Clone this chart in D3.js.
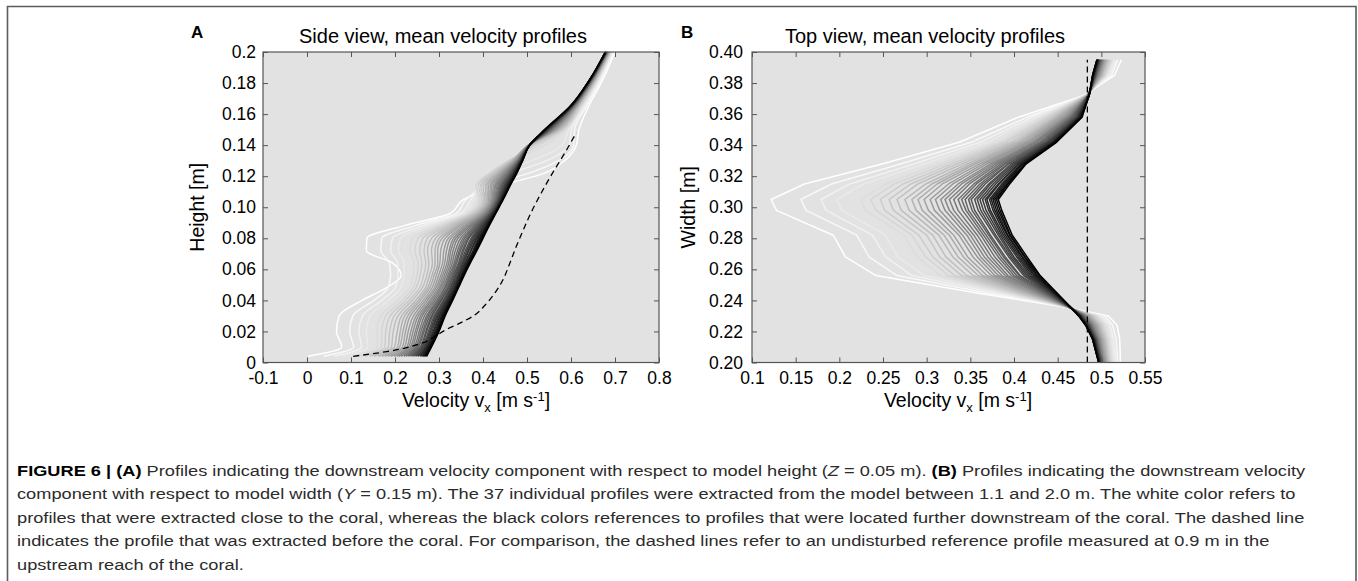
<!DOCTYPE html>
<html><head><meta charset="utf-8">
<script src="https://cdn.jsdelivr.net/npm/d3@7"></script>
<style>
body{margin:0;background:#fff}
svg{display:block}
.ax text{font-family:"Liberation Sans",Arial,Helvetica,sans-serif;fill:#000}
</style>
</head><body>
<svg id="fig" width="1358" height="581"></svg>
<script>
// ---------------- data ----------------
const xTicksA = [-0.1,0,0.1,0.2,0.3,0.4,0.5,0.6,0.7,0.8];
const xTickLabelsA = ["-0.1","0","0.1","0.2","0.3","0.4","0.5","0.6","0.7","0.8"];
const yTicksA = [0,0.02,0.04,0.06,0.08,0.10,0.12,0.14,0.16,0.18,0.2];
const yTickLabelsA = ["0","0.02","0.04","0.06","0.08","0.10","0.12","0.14","0.16","0.18","0.2"];
const xTicksB = [0.1,0.15,0.2,0.25,0.3,0.35,0.4,0.45,0.5,0.55];
const xTickLabelsB = ["0.1","0.15","0.2","0.25","0.3","0.35","0.4","0.45","0.5","0.55"];
const yTicksB = [0.20,0.22,0.24,0.26,0.28,0.30,0.32,0.34,0.36,0.38,0.40];
const yTickLabelsB = ["0.20","0.22","0.24","0.26","0.28","0.30","0.32","0.34","0.36","0.38","0.40"];

// Panel A: heights [m] shared by all 37 profiles, velocities [m/s] per profile (white -> black)
const heightsA = [0.004,0.010,0.020,0.030,0.040,0.048,0.056,0.064,0.072,0.080,0.088,0.096,0.105,0.114,0.122,0.130,0.140,0.150,0.165,0.182,0.200];
const profilesA = [
[0.003,0.079,0.067,0.073,0.125,0.180,0.214,0.195,0.135,0.136,0.219,0.325,0.356,0.440,0.540,0.585,0.612,0.618,0.640,0.672,0.700],
[0.038,0.106,0.097,0.104,0.152,0.184,0.190,0.187,0.168,0.170,0.244,0.339,0.362,0.410,0.505,0.572,0.606,0.608,0.635,0.668,0.697],
[0.062,0.124,0.118,0.126,0.170,0.200,0.207,0.206,0.190,0.194,0.262,0.348,0.373,0.395,0.465,0.545,0.596,0.601,0.631,0.665,0.695],
[0.081,0.138,0.135,0.143,0.185,0.213,0.221,0.221,0.208,0.213,0.276,0.355,0.379,0.388,0.432,0.512,0.580,0.595,0.628,0.663,0.694],
[0.096,0.149,0.147,0.156,0.196,0.224,0.231,0.233,0.222,0.227,0.286,0.361,0.384,0.385,0.418,0.482,0.560,0.591,0.626,0.662,0.692],
[0.109,0.160,0.159,0.168,0.206,0.233,0.241,0.243,0.234,0.240,0.296,0.366,0.389,0.384,0.415,0.465,0.542,0.587,0.623,0.660,0.691],
[0.121,0.169,0.170,0.179,0.216,0.241,0.250,0.253,0.245,0.252,0.305,0.371,0.393,0.385,0.415,0.458,0.528,0.584,0.622,0.659,0.690],
[0.132,0.177,0.179,0.189,0.224,0.248,0.257,0.261,0.256,0.263,0.313,0.375,0.397,0.390,0.419,0.460,0.518,0.581,0.620,0.658,0.689],
[0.143,0.185,0.188,0.198,0.232,0.256,0.265,0.270,0.266,0.273,0.320,0.379,0.401,0.395,0.424,0.463,0.512,0.577,0.618,0.656,0.689],
[0.152,0.192,0.196,0.207,0.239,0.262,0.272,0.277,0.274,0.283,0.327,0.383,0.404,0.400,0.428,0.465,0.509,0.575,0.617,0.655,0.688],
[0.162,0.199,0.205,0.215,0.247,0.269,0.278,0.285,0.283,0.292,0.334,0.386,0.407,0.405,0.432,0.467,0.503,0.572,0.615,0.654,0.687],
[0.170,0.206,0.212,0.222,0.253,0.274,0.284,0.291,0.291,0.300,0.340,0.390,0.410,0.409,0.435,0.468,0.503,0.570,0.614,0.653,0.686],
[0.177,0.211,0.218,0.229,0.258,0.279,0.289,0.297,0.297,0.307,0.345,0.392,0.413,0.413,0.438,0.470,0.503,0.568,0.613,0.653,0.686],
[0.184,0.217,0.224,0.235,0.264,0.284,0.294,0.302,0.304,0.314,0.350,0.395,0.415,0.417,0.441,0.471,0.504,0.565,0.612,0.652,0.685],
[0.191,0.222,0.230,0.242,0.269,0.289,0.299,0.308,0.311,0.321,0.356,0.398,0.418,0.420,0.444,0.473,0.504,0.563,0.611,0.651,0.685],
[0.198,0.227,0.236,0.248,0.274,0.293,0.304,0.313,0.317,0.327,0.360,0.400,0.420,0.424,0.446,0.474,0.504,0.562,0.610,0.650,0.684],
[0.204,0.231,0.241,0.253,0.279,0.297,0.308,0.318,0.323,0.333,0.365,0.403,0.422,0.427,0.449,0.476,0.504,0.560,0.609,0.650,0.684],
[0.209,0.235,0.246,0.258,0.283,0.301,0.312,0.322,0.327,0.338,0.368,0.405,0.424,0.429,0.451,0.477,0.505,0.558,0.608,0.649,0.683],
[0.214,0.239,0.250,0.262,0.287,0.304,0.316,0.326,0.332,0.343,0.372,0.407,0.426,0.432,0.453,0.478,0.505,0.557,0.607,0.648,0.683],
[0.220,0.243,0.255,0.267,0.291,0.308,0.320,0.330,0.337,0.349,0.376,0.409,0.428,0.435,0.455,0.479,0.505,0.555,0.606,0.648,0.682],
[0.225,0.247,0.259,0.272,0.295,0.312,0.323,0.334,0.342,0.354,0.380,0.411,0.429,0.438,0.458,0.480,0.505,0.554,0.605,0.647,0.682],
[0.229,0.250,0.263,0.275,0.298,0.314,0.326,0.337,0.346,0.358,0.383,0.412,0.431,0.440,0.459,0.481,0.505,0.553,0.605,0.647,0.682],
[0.233,0.253,0.266,0.279,0.301,0.317,0.329,0.340,0.349,0.362,0.386,0.414,0.432,0.442,0.461,0.482,0.505,0.551,0.604,0.646,0.681],
[0.237,0.257,0.270,0.283,0.304,0.320,0.332,0.344,0.353,0.366,0.389,0.416,0.434,0.444,0.463,0.483,0.505,0.550,0.604,0.646,0.681],
[0.240,0.259,0.272,0.285,0.306,0.322,0.334,0.346,0.356,0.368,0.391,0.417,0.435,0.445,0.464,0.483,0.505,0.549,0.603,0.646,0.681],
[0.244,0.262,0.276,0.289,0.310,0.325,0.337,0.349,0.360,0.373,0.394,0.418,0.436,0.448,0.466,0.484,0.505,0.548,0.602,0.645,0.680],
[0.247,0.264,0.279,0.292,0.312,0.327,0.339,0.352,0.363,0.376,0.396,0.419,0.437,0.449,0.467,0.485,0.506,0.547,0.602,0.645,0.680],
[0.251,0.267,0.281,0.295,0.315,0.329,0.342,0.354,0.366,0.379,0.398,0.421,0.438,0.451,0.468,0.485,0.506,0.546,0.601,0.644,0.680],
[0.253,0.269,0.284,0.297,0.317,0.331,0.344,0.356,0.368,0.382,0.400,0.422,0.439,0.452,0.469,0.486,0.506,0.545,0.601,0.644,0.680],
[0.257,0.271,0.287,0.300,0.319,0.334,0.346,0.359,0.372,0.385,0.403,0.423,0.441,0.454,0.471,0.487,0.506,0.544,0.600,0.644,0.679],
[0.259,0.273,0.288,0.302,0.321,0.335,0.347,0.360,0.373,0.387,0.404,0.424,0.441,0.455,0.471,0.487,0.506,0.544,0.600,0.643,0.679],
[0.262,0.275,0.291,0.305,0.323,0.337,0.350,0.363,0.377,0.390,0.407,0.425,0.442,0.457,0.473,0.488,0.506,0.543,0.600,0.643,0.679],
[0.264,0.277,0.293,0.307,0.325,0.339,0.351,0.365,0.379,0.392,0.408,0.426,0.443,0.458,0.474,0.488,0.506,0.542,0.599,0.643,0.679],
[0.266,0.278,0.295,0.309,0.326,0.340,0.353,0.366,0.380,0.394,0.410,0.427,0.444,0.459,0.474,0.489,0.506,0.542,0.599,0.643,0.679],
[0.268,0.280,0.297,0.310,0.328,0.341,0.354,0.368,0.382,0.396,0.411,0.427,0.445,0.460,0.475,0.489,0.506,0.541,0.599,0.642,0.678],
[0.270,0.281,0.298,0.312,0.329,0.343,0.355,0.369,0.384,0.398,0.412,0.428,0.445,0.461,0.476,0.490,0.506,0.541,0.598,0.642,0.678],
[0.272,0.283,0.300,0.314,0.331,0.344,0.357,0.371,0.386,0.400,0.414,0.429,0.446,0.462,0.477,0.490,0.506,0.540,0.598,0.642,0.678]
];
// Panel A dashed reference profile (0.9 m)
const refHeightsA = [0.004,0.007,0.012,0.017,0.021,0.025,0.030,0.037,0.044,0.052,0.064,0.075,0.085,0.097,0.109,0.122,0.135,0.148];
const refVelA =     [0.105,0.181,0.257,0.292,0.315,0.345,0.378,0.405,0.425,0.443,0.461,0.476,0.491,0.510,0.532,0.558,0.586,0.612];

// Panel B: widths [m] shared by all 37 profiles
const widthsB = [0.200,0.215,0.224,0.230,0.236,0.245,0.256,0.268,0.282,0.298,0.305,0.315,0.328,0.342,0.358,0.372,0.385,0.395];
const profilesB = [
[0.522,0.521,0.518,0.508,0.455,0.356,0.242,0.207,0.193,0.128,0.122,0.160,0.250,0.338,0.405,0.480,0.515,0.523],
[0.519,0.517,0.513,0.504,0.456,0.368,0.266,0.234,0.220,0.162,0.156,0.191,0.271,0.352,0.415,0.481,0.512,0.519],
[0.517,0.514,0.510,0.501,0.457,0.377,0.283,0.253,0.238,0.185,0.179,0.212,0.286,0.362,0.421,0.481,0.510,0.517],
[0.515,0.512,0.508,0.498,0.458,0.383,0.297,0.267,0.253,0.203,0.197,0.228,0.298,0.370,0.426,0.482,0.508,0.515],
[0.513,0.510,0.506,0.496,0.458,0.388,0.307,0.279,0.264,0.217,0.212,0.241,0.307,0.376,0.430,0.482,0.506,0.513],
[0.512,0.509,0.504,0.495,0.459,0.393,0.316,0.289,0.274,0.230,0.225,0.253,0.315,0.382,0.434,0.482,0.505,0.512],
[0.511,0.507,0.502,0.493,0.459,0.397,0.325,0.299,0.283,0.242,0.236,0.263,0.322,0.387,0.437,0.483,0.504,0.511],
[0.510,0.506,0.501,0.492,0.459,0.401,0.332,0.307,0.291,0.252,0.247,0.273,0.329,0.391,0.440,0.483,0.503,0.510],
[0.509,0.505,0.499,0.490,0.460,0.404,0.340,0.315,0.300,0.262,0.257,0.282,0.335,0.396,0.443,0.483,0.502,0.508],
[0.508,0.504,0.498,0.489,0.460,0.408,0.346,0.322,0.307,0.271,0.266,0.290,0.341,0.400,0.446,0.483,0.501,0.507],
[0.507,0.503,0.497,0.488,0.460,0.411,0.353,0.330,0.314,0.280,0.275,0.299,0.347,0.404,0.448,0.484,0.500,0.507],
[0.507,0.502,0.496,0.487,0.461,0.414,0.359,0.336,0.320,0.288,0.283,0.306,0.352,0.407,0.450,0.484,0.500,0.506],
[0.506,0.501,0.495,0.486,0.461,0.416,0.364,0.342,0.326,0.295,0.290,0.312,0.356,0.410,0.452,0.484,0.499,0.505],
[0.505,0.500,0.494,0.485,0.461,0.419,0.369,0.347,0.331,0.302,0.297,0.318,0.361,0.413,0.454,0.484,0.498,0.504],
[0.505,0.499,0.493,0.484,0.461,0.421,0.374,0.353,0.337,0.309,0.304,0.325,0.365,0.416,0.456,0.484,0.498,0.503],
[0.504,0.499,0.492,0.483,0.462,0.423,0.378,0.358,0.341,0.315,0.310,0.330,0.369,0.418,0.458,0.484,0.497,0.503],
[0.503,0.498,0.491,0.483,0.462,0.426,0.382,0.362,0.346,0.321,0.316,0.336,0.373,0.421,0.460,0.485,0.496,0.502],
[0.503,0.497,0.490,0.482,0.462,0.427,0.386,0.366,0.350,0.326,0.321,0.340,0.376,0.423,0.461,0.485,0.496,0.502],
[0.502,0.497,0.490,0.481,0.462,0.429,0.390,0.370,0.354,0.331,0.326,0.345,0.379,0.425,0.462,0.485,0.495,0.501],
[0.502,0.496,0.489,0.481,0.462,0.431,0.393,0.374,0.358,0.336,0.331,0.349,0.382,0.427,0.464,0.485,0.495,0.501],
[0.501,0.495,0.488,0.480,0.462,0.433,0.397,0.378,0.362,0.341,0.336,0.354,0.385,0.430,0.465,0.485,0.494,0.500],
[0.501,0.495,0.488,0.480,0.463,0.434,0.400,0.382,0.365,0.345,0.340,0.357,0.388,0.431,0.466,0.485,0.494,0.500],
[0.501,0.495,0.487,0.479,0.463,0.435,0.403,0.385,0.368,0.348,0.344,0.361,0.390,0.433,0.467,0.485,0.494,0.499],
[0.500,0.494,0.487,0.478,0.463,0.437,0.406,0.388,0.371,0.352,0.348,0.364,0.393,0.435,0.468,0.485,0.493,0.499],
[0.500,0.494,0.486,0.478,0.463,0.438,0.407,0.390,0.373,0.355,0.351,0.367,0.394,0.436,0.469,0.485,0.493,0.498],
[0.500,0.493,0.486,0.478,0.463,0.439,0.411,0.394,0.377,0.359,0.355,0.371,0.397,0.438,0.471,0.485,0.493,0.498],
[0.499,0.493,0.485,0.477,0.463,0.440,0.413,0.396,0.379,0.362,0.358,0.373,0.399,0.439,0.471,0.485,0.492,0.498],
[0.499,0.493,0.485,0.477,0.463,0.442,0.415,0.398,0.382,0.365,0.361,0.376,0.401,0.440,0.472,0.486,0.492,0.497],
[0.499,0.492,0.485,0.476,0.463,0.443,0.417,0.400,0.384,0.368,0.364,0.379,0.403,0.441,0.473,0.486,0.492,0.497],
[0.498,0.492,0.484,0.476,0.464,0.444,0.419,0.403,0.386,0.371,0.367,0.382,0.405,0.443,0.474,0.486,0.491,0.497],
[0.498,0.492,0.484,0.476,0.464,0.444,0.421,0.405,0.388,0.373,0.369,0.383,0.406,0.444,0.474,0.486,0.491,0.496],
[0.498,0.491,0.483,0.475,0.464,0.446,0.423,0.407,0.390,0.376,0.372,0.386,0.408,0.445,0.475,0.486,0.491,0.496],
[0.498,0.491,0.483,0.475,0.464,0.446,0.424,0.409,0.392,0.378,0.374,0.388,0.409,0.446,0.476,0.486,0.491,0.496],
[0.497,0.491,0.483,0.475,0.464,0.447,0.426,0.410,0.393,0.380,0.376,0.390,0.410,0.446,0.476,0.486,0.491,0.496],
[0.497,0.490,0.483,0.475,0.464,0.448,0.427,0.412,0.395,0.382,0.378,0.392,0.412,0.447,0.477,0.486,0.490,0.495],
[0.497,0.490,0.482,0.474,0.464,0.448,0.429,0.413,0.396,0.384,0.380,0.393,0.413,0.448,0.477,0.486,0.490,0.495],
[0.497,0.490,0.482,0.474,0.464,0.449,0.430,0.415,0.398,0.386,0.382,0.395,0.414,0.449,0.478,0.486,0.490,0.495]
];
// Panel B dashed reference profile (0.9 m)
const refWidthsB = [0.200,0.300,0.395];
const refVelB =    [0.484,0.484,0.484];

// Caption (segments: text, style)
const captionLines = [
  [["FIGURE 6 | (A)","b"],[" Profiles indicating the downstream velocity component with respect to model height (",""],["Z","i"],[" = 0.05 m). ",""],["(B)","b"],[" Profiles indicating the downstream velocity",""]],
  [["component with respect to model width (",""],["Y","i"],[" = 0.15 m). The 37 individual profiles were extracted from the model between 1.1 and 2.0 m. The white color refers to",""]],
  [["profiles that were extracted close to the coral, whereas the black colors references to profiles that were located further downstream of the coral. The dashed line",""]],
  [["indicates the profile that was extracted before the coral. For comparison, the dashed lines refer to an undisturbed reference profile measured at 0.9 m in the",""]],
  [["upstream reach of the coral.",""]]
];

// ---------------- drawing ----------------
const svg = d3.select("#fig");
const FONT = '"Liberation Sans",Arial,Helvetica,sans-serif';

// outer frame
svg.append("path").attr("d","M7.5,581 V6.5 H1356 V581")
  .attr("fill","none").attr("stroke","#5c5c5c").attr("stroke-width",1.6);

function panel(cfg){
  const g = svg.append("g").attr("class","ax");
  const x = d3.scaleLinear().domain(cfg.xDomain).range([cfg.left,cfg.right]);
  const y = d3.scaleLinear().domain(cfg.yDomain).range([cfg.bottom,cfg.top]);
  g.append("rect").attr("x",cfg.left).attr("y",cfg.top)
    .attr("width",cfg.right-cfg.left).attr("height",cfg.bottom-cfg.top)
    .attr("fill","#e2e2e2");
  const clipId = "clip"+cfg.name;
  svg.append("clipPath").attr("id",clipId).append("rect")
    .attr("x",cfg.left).attr("y",cfg.top-2).attr("width",cfg.right-cfg.left).attr("height",cfg.bottom-cfg.top+2);
  const lg = g.append("g").attr("clip-path",`url(#${clipId})`);
  const n = cfg.profiles.length;
  const line = d3.line().x(d=>x(d[0])).y(d=>y(d[1])).curve(cfg.curve);
  cfg.profiles.forEach((vals,i)=>{
    const pts = vals.map((v,k)=>[v,cfg.levels[k]]);
    const c = Math.round(255*(1-i/(n-1)));
    lg.append("path").datum(pts)
      .attr("d",line)
      .attr("fill","none").attr("stroke",`rgb(${c},${c},${c})`)
      .attr("stroke-width",1.5).attr("stroke-linejoin","round");
  });
  const refPts = cfg.refV.map((v,k)=>[v,cfg.refL[k]]);
  lg.append("path").datum(refPts)
    .attr("d",line)
    .attr("fill","none").attr("stroke","#000").attr("stroke-width",1.3)
    .attr("stroke-dasharray","6,4");

  const fmtX = (d,i)=>cfg.xLabels[i];
  const fmtY = (d,i)=>cfg.yLabels[i];
  const ax = [
    [d3.axisBottom(x).tickValues(cfg.xTicks).tickFormat(fmtX).tickSizeInner(-5).tickSizeOuter(0).tickPadding(9), `translate(0,${cfg.bottom})`],
    [d3.axisTop(x).tickValues(cfg.xTicks).tickFormat("").tickSizeInner(-5).tickSizeOuter(0), `translate(0,${cfg.top})`],
    [d3.axisLeft(y).tickValues(cfg.yTicks).tickFormat(fmtY).tickSizeInner(-5).tickSizeOuter(0).tickPadding(cfg.yPad), `translate(${cfg.left},0)`],
    [d3.axisRight(y).tickValues(cfg.yTicks).tickFormat("").tickSizeInner(-5).tickSizeOuter(0), `translate(${cfg.right},0)`]
  ];
  ax.forEach(([a,t])=>{
    const s = g.append("g").attr("transform",t).call(a);
    s.select(".domain").remove();
    s.selectAll(".tick line").attr("stroke","#555").attr("stroke-width",1);
    s.selectAll(".tick text").attr("font-size",17.5).attr("font-family",FONT).attr("fill","#000");
  });
  g.append("rect").attr("x",cfg.left).attr("y",cfg.top)
    .attr("width",cfg.right-cfg.left).attr("height",cfg.bottom-cfg.top)
    .attr("fill","none").attr("stroke","#555").attr("stroke-width",1.2);

  // title & letter
  g.append("text").attr("x",cfg.titleX).attr("y",43).attr("text-anchor","middle")
    .attr("font-size",20).attr("font-family",FONT).text(cfg.title);
  g.append("text").attr("x",cfg.letterX).attr("y",38)
    .attr("font-size",17).attr("font-weight","bold").attr("font-family",FONT).text(cfg.name);
  // x label
  const xl = g.append("text").attr("x",cfg.xLabelX).attr("y",407).attr("text-anchor","middle")
    .attr("font-size",19.5).attr("font-family",FONT);
  xl.append("tspan").text("Velocity v");
  xl.append("tspan").attr("font-size",13).attr("dy",5).text("x");
  xl.append("tspan").attr("dy",-5).text(" [m s");
  xl.append("tspan").attr("font-size",13).attr("dy",-6).text("-1");
  xl.append("tspan").attr("dy",6).text("]");
  // y label
  g.append("text").attr("transform",`translate(${cfg.yLabelX},${(cfg.top+cfg.bottom)/2}) rotate(-90)`)
    .attr("text-anchor","middle").attr("font-size",19.5).attr("font-family",FONT).text(cfg.yTitle);
}

panel({name:"A", left:263, right:659, top:52, bottom:362.5, curve:d3.curveMonotoneY,
  xDomain:[-0.1,0.8], yDomain:[0,0.2], xTicks:xTicksA, xLabels:xTickLabelsA, yTicks:yTicksA, yLabels:yTickLabelsA,
  levels:heightsA, profiles:profilesA, refV:refVelA, refL:refHeightsA, yPad:7,
  title:"Side view, mean velocity profiles", titleX:443, letterX:191, xLabelX:476, yLabelX:204, yTitle:"Height [m]"});
panel({name:"B", left:752, right:1145, top:52, bottom:362.5, curve:d3.curveLinear,
  xDomain:[0.1,0.55], yDomain:[0.2,0.4], xTicks:xTicksB, xLabels:xTickLabelsB, yTicks:yTicksB, yLabels:yTickLabelsB,
  levels:widthsB, profiles:profilesB, refV:refVelB, refL:refWidthsB, yPad:9,
  title:"Top view, mean velocity profiles", titleX:925, letterX:681, xLabelX:958, yLabelX:695, yTitle:"Width [m]"});

// caption
const capG = svg.append("g");
const baselines = [476,499.5,523,546.5,570];
const capFont = '"Liberation Sans Narrow","Arial Narrow","Liberation Sans",Arial,sans-serif';
const texts = captionLines.map((segs,li)=>{
  const t = capG.append("text").attr("x",0).attr("y",baselines[li])
    .attr("font-size",15.5).attr("font-family",capFont).attr("fill","#2b2b2b");
  segs.forEach(([s,st])=>{
    const ts = t.append("tspan").text(s);
    if(st==="b") ts.attr("font-weight","bold").attr("fill","#000");
    if(st==="i") ts.attr("font-style","italic");
  });
  return t;
});
const w0 = texts[0].node().getComputedTextLength();
const sx = 1289/w0;
texts.forEach(t=>t.attr("transform",`translate(17,0) scale(${sx},1)`));
</script>
</body></html>
